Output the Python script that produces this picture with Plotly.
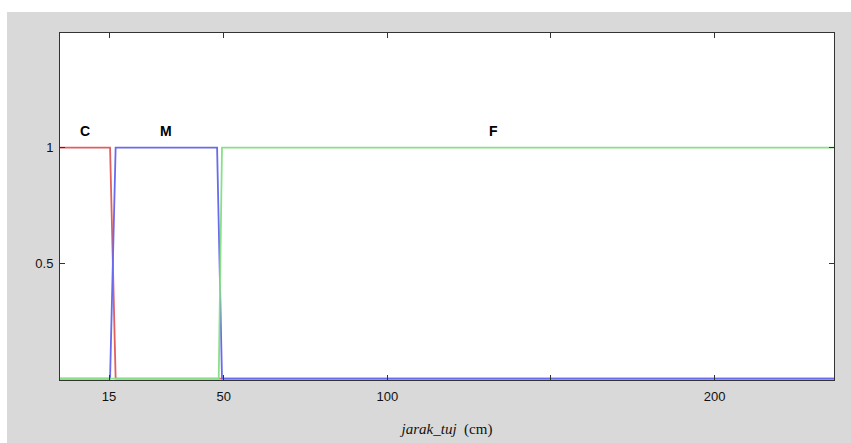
import plotly.graph_objects as go

# Membership function breakpoints (jarak_tuj, cm)
c_x = [0, 15.3, 17, 236.5]
c_y = [1, 1, 0, 0]
m_x = [0, 15.3, 17, 48, 49.5, 236.5]
m_y = [0, 0, 1, 1, 0, 0]
f_x = [0, 48.5, 49.5, 236.5]
f_y = [0, 0, 1, 1]

mf_names = ["C", "M", "F"]
mf_label_x = [7.5, 32.5, 132.4]
mf_label_y = 1.073

x_tickvals = [15, 50, 100, 150, 200]
x_ticktext = ["15", "50", "100", "", "200"]
y_tickvals = [0.5, 1]
y_ticktext = ["0.5", "1"]

fig = go.Figure()
fig.add_trace(go.Scatter(x=c_x, y=c_y, mode="lines", line=dict(color="#e06060", width=1.8), hoverinfo="skip"))
fig.add_trace(go.Scatter(x=m_x, y=m_y, mode="lines", line=dict(color="#6a6aec", width=1.8), hoverinfo="skip"))
fig.add_trace(go.Scatter(x=f_x, y=f_y, mode="lines", line=dict(color="#88e088", width=1.8), hoverinfo="skip"))

for name, lx in zip(mf_names, mf_label_x):
    fig.add_annotation(x=lx, y=mf_label_y, text="<b>" + name + "</b>", showarrow=False,
                       font=dict(family="Liberation Sans, Arial", size=14, color="black"))

W, H = 851, 443
L, R, T, B = 60, 17, 33, 63
pw, ph = W - L - R, H - T - B

# white strips at top and left of the image (outside the gray panel)
fig.add_shape(type="rect", xref="paper", yref="paper",
              x0=-L / pw, x1=(W - L) / pw, y0=(H - B - 12) / ph, y1=(H - B) / ph + 0.01,
              fillcolor="white", line_width=0, layer="below")
fig.add_shape(type="rect", xref="paper", yref="paper",
              x0=-L / pw - 0.01, x1=(7 - L) / pw, y0=-B / ph - 0.01, y1=(H - B) / ph + 0.01,
              fillcolor="white", line_width=0, layer="below")

axis_common = dict(showgrid=False, zeroline=False, showline=True, linecolor="#333333", linewidth=1,
                   mirror="ticks", ticks="inside", ticklen=5, tickcolor="#333333", tickwidth=1,
                   tickfont=dict(family="Liberation Sans, Arial", size=13, color="#111111"))

fig.update_xaxes(range=[0, 236.5], tickmode="array", tickvals=x_tickvals, ticktext=x_ticktext,
                 ticklabelstandoff=4,
                 title=dict(text="<i>jarak_tuj</i>  (cm)", standoff=20,
                            font=dict(family="Liberation Serif, Times New Roman", size=15, color="#111111")),
                 **axis_common)
fig.update_yaxes(range=[-0.006, 1.496], tickmode="array", tickvals=y_tickvals, ticktext=y_ticktext,
                 ticklabelstandoff=3,
                 **axis_common)

fig.update_layout(width=W, height=H, margin=dict(l=L, r=R, t=T, b=B, autoexpand=False),
                  paper_bgcolor="#d9d9d9", plot_bgcolor="white", showlegend=False)

fig.write_html("out.html", config={"displayModeBar": False},
               post_script="document.body.style.margin='0';document.body.style.overflow='hidden';")
